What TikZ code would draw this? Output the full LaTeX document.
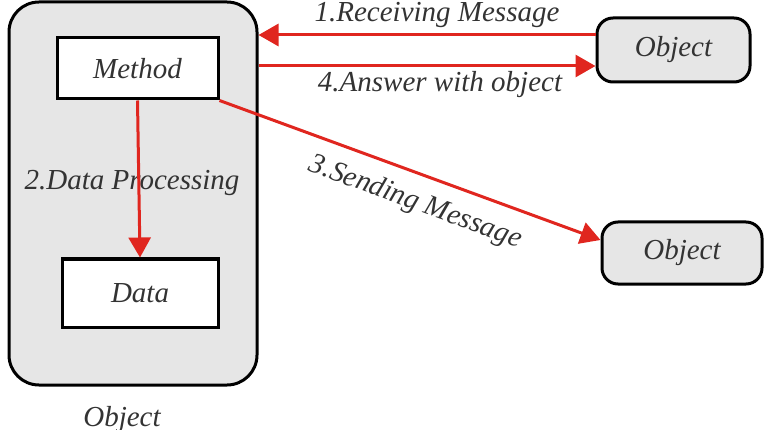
\documentclass[tikz,border=0pt]{standalone}
\usepackage{fontspec}
\setmainfont{Liberation Serif}
\usetikzlibrary{arrows.meta}
\definecolor{boxgray}{HTML}{E6E6E6}
\definecolor{arrred}{HTML}{E0261F}
\definecolor{txt}{HTML}{333333}
\begin{document}
\begin{tikzpicture}[x=1pt,y=-1pt,
  lbl/.style={font=\fontsize{29}{32}\selectfont\itshape, text=txt, inner sep=0pt},
  outerbox/.style={draw=black, line width=3pt, fill=boxgray, rounded corners=30pt, inner sep=0pt},
  innerbox/.style={draw=black, line width=3pt, fill=white, inner sep=0pt, font=\fontsize{29}{32}\selectfont\itshape, text=txt},
  objbox/.style={draw=black, line width=3pt, fill=boxgray, rounded corners=16pt, inner sep=0pt, font=\fontsize{29}{32}\selectfont\itshape, text=txt},
  arr/.style={draw=arrred, line width=3pt, -{Triangle[length=20pt,width=22pt]}}]
\useasboundingbox (0,0) rectangle (773,430);
\node[outerbox, minimum width=248pt, minimum height=383pt] (big) at (133,193.5) {};
\node[innerbox, minimum width=161pt, minimum height=61pt] (method) at (137.5,68.5) {Method};
\node[innerbox, minimum width=156pt, minimum height=68pt] (data) at (140,293) {Data};
\node[objbox, minimum width=153pt, minimum height=64pt] (obj1) at (673.5,50) {Object};
\node[objbox, minimum width=160pt, minimum height=62pt] (obj2) at (682,253) {Object};
\node[lbl] (bigl) at (122,420) {Object};
\coordinate (a1s) at ([yshift=15pt]obj1.west);
\coordinate (a4e) at ([yshift=-16pt]obj1.west);
\coordinate (a3e) at ([yshift=13pt]obj2.west);
\node[lbl] (l2) at (132,183) {2.Data Processing};
\draw[arr] (a1s) -- (a1s -| big.east);
\draw[arr] (a4e -| big.east) -- (a4e);
\draw[arr] (method.south) -- (data.north);
\draw[arr] (method.south east) -- node[lbl, pos=0.54, sloped, below=14pt] (l3) {3.Sending Message} (a3e);
\node[lbl] (l1) at (437,15) {1.Receiving Message};
\node[lbl] (l4) at (440,85) {4.Answer with object};
\end{tikzpicture}
\end{document}
